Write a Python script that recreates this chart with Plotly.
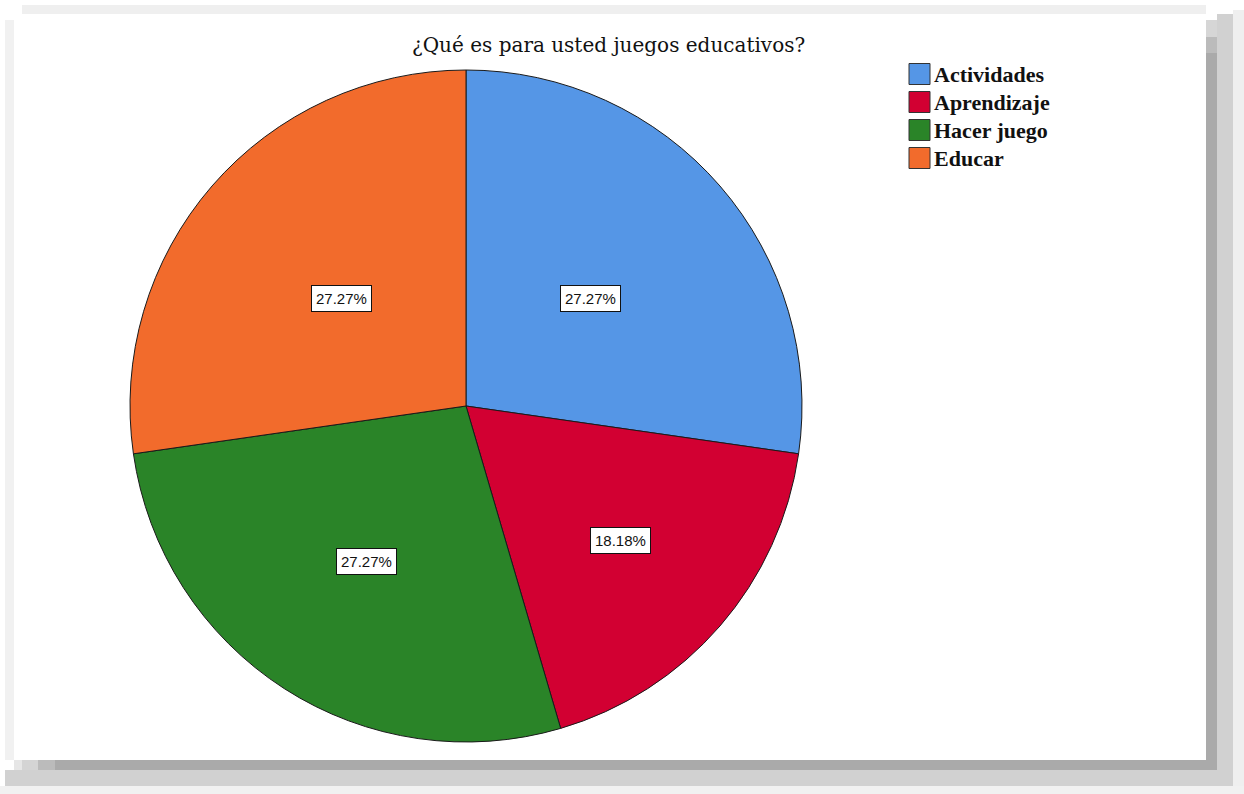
import math
import plotly.graph_objects as go

# Survey responses: "¿Qué es para usted juegos educativos?" (n = 11)
categories = ["Actividades", "Aprendizaje", "Hacer juego", "Educar"]
counts = [3, 2, 3, 3]
colors = ["#5596E6", "#D20032", "#2A8428", "#F26B2C"]
title_text = "¿Qué es para usted juegos educativos?"

# Canvas and pie geometry (pixels, origin top-left)
W, H = 1244, 794
CX, CY, R = 466, 406, 336
# radial placement of each percentage box, as a fraction of the radius
label_frac = [0.49, 0.61, 0.55, 0.49]


def px(x):
    return x / W


def py(y):
    return 1 - y / H


fig = go.Figure(
    go.Pie(
        labels=categories,
        values=counts,
        sort=False,
        direction="clockwise",
        rotation=0,
        marker=dict(colors=colors, line=dict(color="#1a1a1a", width=1)),
        textinfo="none",
        hoverinfo="label+percent",
        showlegend=False,
        domain=dict(x=[px(CX - R), px(CX + R)], y=[py(CY + R), py(CY - R)]),
    )
)

shapes = []
annotations = []

# Drop-shadow frame around the white chart panel
frame = [
    # (x0, y0, x1, y1, color)
    (22, 5, 1206, 14, "#efefef"),
    (5, 20, 14, 760, "#f1f1f1"),
    (1233, 10, 1244, 794, "#efefef"),
    (0, 786, 1244, 794, "#f1f1f1"),
    (1217, 14, 1233, 786, "#d1d1d1"),
    (5, 770, 1233, 786, "#d1d1d1"),
    (1206, 20, 1217, 37, "#d6d6d6"),
    (1206, 37, 1217, 53, "#bbbbbb"),
    (1206, 53, 1217, 770, "#aaaaaa"),
    (14, 760, 22, 770, "#e6e6e6"),
    (22, 760, 38, 770, "#d4d4d4"),
    (38, 760, 55, 770, "#bbbbbb"),
    (55, 760, 1206, 770, "#aaaaaa"),
]
for x0, y0, x1, y1, c in frame:
    shapes.append(dict(type="rect", xref="paper", yref="paper",
                       x0=px(x0), x1=px(x1), y0=py(y1), y1=py(y0),
                       fillcolor=c, line=dict(width=0), layer="below"))

# Title
annotations.append(dict(text=title_text, xref="paper", yref="paper",
                        x=px(608), y=py(45), xanchor="center", yanchor="middle",
                        showarrow=False,
                        font=dict(family="DejaVu Serif", size=20, color="#111111")))

# Percentage boxes at each slice's mid-angle
total = sum(counts)
cum = 0
for i, v in enumerate(counts):
    theta = 2 * math.pi * (cum + v / 2) / total
    cum += v
    lx = CX + label_frac[i] * R * math.sin(theta)
    ly = CY - label_frac[i] * R * math.cos(theta)
    annotations.append(dict(text=f"{100 * v / total:.2f}%", xref="paper", yref="paper",
                            x=px(lx), y=py(ly), xanchor="center", yanchor="middle",
                            showarrow=False, bgcolor="white", bordercolor="#111111",
                            borderwidth=1, borderpad=4,
                            font=dict(family="Liberation Sans", size=15, color="#111111")))

# Legend: swatch + bold serif label per category
LX, LY0, STEP, SW = 909, 74, 28, 21
for i, name in enumerate(categories):
    yc = LY0 + i * STEP
    shapes.append(dict(type="rect", xref="paper", yref="paper",
                       x0=px(LX), x1=px(LX + SW), y0=py(yc + SW / 2), y1=py(yc - SW / 2),
                       fillcolor=colors[i], line=dict(color="#333333", width=1)))
    annotations.append(dict(text=f"<b>{name}</b>", xref="paper", yref="paper",
                            x=px(LX + SW + 2), y=py(yc), xanchor="left", yanchor="middle",
                            showarrow=False,
                            font=dict(family="Liberation Serif", size=22, color="#111111")))

fig.update_layout(
    width=W, height=H,
    margin=dict(l=0, r=0, t=0, b=0),
    paper_bgcolor="white",
    plot_bgcolor="white",
    shapes=shapes,
    annotations=annotations,
)

fig.write_html("out.html")
